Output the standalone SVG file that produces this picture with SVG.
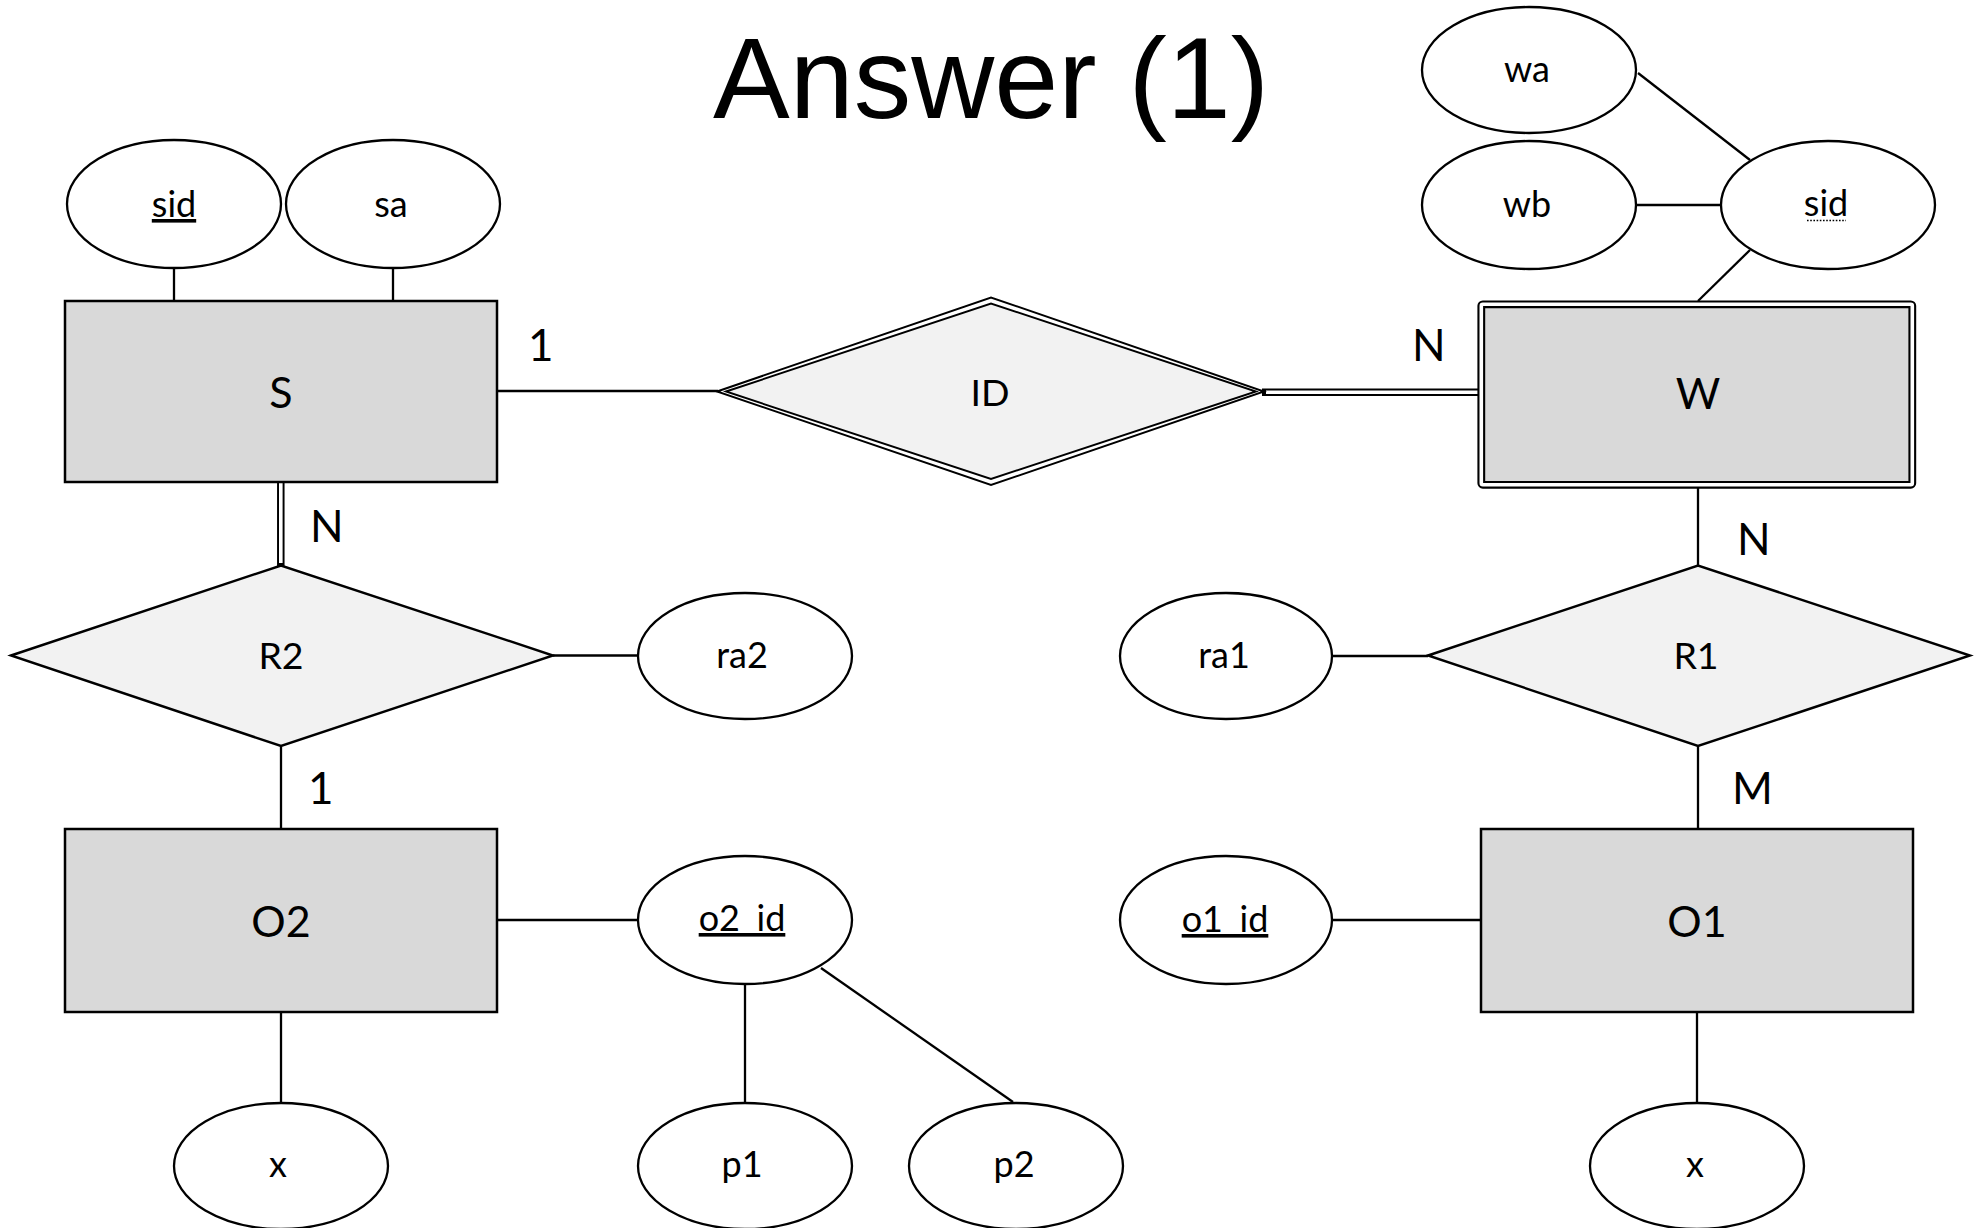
<svg xmlns="http://www.w3.org/2000/svg" width="1982" height="1228" viewBox="0 0 1982 1228">
<style>
  .ent { fill: #d9d9d9; stroke: #000; stroke-width: 2.5; }
  .rel { fill: #f2f2f2; stroke: #000; stroke-width: 2.4; stroke-linejoin: miter; }
  .att { fill: #ffffff; stroke: #000; stroke-width: 2.3; }
  .ln { stroke: #000; stroke-width: 2.3; fill: none; }
  .dbl-b { stroke: #000; stroke-width: 7.5; fill: none; }
  .dbl-w { stroke: #ffffff; stroke-width: 3.6; fill: none; }
  .dd-out { fill: #ffffff; stroke: #000; stroke-width: 1.9; stroke-linejoin: miter; }
  .dd-in { fill: #f2f2f2; stroke: #000; stroke-width: 1.9; stroke-linejoin: miter; }
  text { font-family: Lato, "Liberation Sans", sans-serif; fill: #000; text-anchor: middle; }
  .t-ent { font-size: 43px; }
  .t-rel { font-size: 37.5px; }
  .t-att { font-size: 36px; }
  .t-card { font-size: 44px; text-anchor: start; }
  .t-title { font-family: "Liberation Sans", Arial, sans-serif; font-size: 115px; }
  .ul { text-decoration: underline; }
</style>

<g id="title">
  <text class="t-title" x="991" y="117.5">Answer (1)</text>
</g>

<g id="connectors">
  <line class="ln" x1="174" y1="268" x2="174" y2="301"/>
  <line class="ln" x1="393" y1="268" x2="393" y2="301"/>
  <line class="ln" x1="497" y1="391" x2="718" y2="391"/>
  <line class="dbl-b" x1="1262" y1="392.2" x2="1480" y2="392.2"/>
  <line class="dbl-w" x1="1266" y1="392.2" x2="1480" y2="392.2"/>
  <line class="dbl-b" x1="280.8" y1="482" x2="280.8" y2="566"/>
  <line class="dbl-w" x1="280.8" y1="482" x2="280.8" y2="563"/>
  <line class="ln" x1="553" y1="655.5" x2="638" y2="655.5"/>
  <line class="ln" x1="281" y1="746" x2="281" y2="829"/>
  <line class="ln" x1="497" y1="920" x2="638" y2="920"/>
  <line class="ln" x1="281" y1="1012" x2="281" y2="1103"/>
  <line class="ln" x1="745" y1="984" x2="745" y2="1103"/>
  <line class="ln" x1="821" y1="968" x2="1013" y2="1102"/>
  <line class="ln" x1="1638" y1="73" x2="1750" y2="160"/>
  <line class="ln" x1="1636" y1="205" x2="1721" y2="205"/>
  <line class="ln" x1="1750" y1="250" x2="1698" y2="301"/>
  <line class="ln" x1="1698" y1="488" x2="1698" y2="566"/>
  <line class="ln" x1="1331" y1="656" x2="1428" y2="656"/>
  <line class="ln" x1="1698" y1="746" x2="1698" y2="829"/>
  <line class="ln" x1="1331" y1="920" x2="1481" y2="920"/>
  <line class="ln" x1="1697" y1="1012" x2="1697" y2="1103"/>
</g>

<g id="cardinalities">
  <text class="t-card" x="528" y="361">1</text>
  <text class="t-card" x="310" y="542">N</text>
  <text class="t-card" x="1412" y="361">N</text>
  <text class="t-card" x="1737" y="555">N</text>
  <text class="t-card" x="308" y="804">1</text>
  <text class="t-card" x="1732" y="804">M</text>
</g>

<g id="S">
  <rect class="ent" x="65" y="301" width="432" height="181"/>
  <text class="t-ent" x="281" y="408">S</text>
</g>

<g id="W">
  <rect x="1481.3" y="304.3" width="431" height="180.5" rx="1.5" fill="#d9d9d9" stroke="#000" stroke-width="7.8"/>
  <rect x="1481.3" y="304.3" width="431" height="180.5" rx="1.5" fill="none" stroke="#fff" stroke-width="3.6"/>
  <text class="t-ent" x="1698" y="409">W</text>
</g>

<g id="O2">
  <rect class="ent" x="65" y="829" width="432" height="183"/>
  <text class="t-ent" x="281" y="937">O2</text>
</g>

<g id="O1">
  <rect class="ent" x="1481" y="829" width="432" height="183"/>
  <text class="t-ent" x="1697" y="937">O1</text>
</g>

<g id="ID">
  <polygon class="dd-out" points="717,391.5 991,297.5 1264,391.5 991,485"/>
  <polygon class="dd-in" points="726,391.5 991,303.5 1256,391.5 991,479"/>
  <text class="t-rel" x="990" y="406">ID</text>
</g>

<g id="R2">
  <polygon class="rel" points="11,655.5 281,565.5 553,655.5 281,746"/>
  <text class="t-rel" x="281" y="669">R2</text>
</g>

<g id="R1">
  <polygon class="rel" points="1428,655.5 1698,565.5 1970,655.5 1698,746"/>
  <text class="t-rel" x="1696" y="669">R1</text>
</g>

<g id="attr-sid">
  <ellipse class="att" cx="174" cy="204" rx="107" ry="64"/>
  <text class="t-att ul" x="174" y="217">sid</text>
</g>
<g id="attr-sa">
  <ellipse class="att" cx="393" cy="204" rx="107" ry="64"/>
  <text class="t-att" x="391" y="217">sa</text>
</g>
<g id="attr-wa">
  <ellipse class="att" cx="1529" cy="70" rx="107" ry="63"/>
  <text class="t-att" x="1527" y="82">wa</text>
</g>
<g id="attr-wb">
  <ellipse class="att" cx="1529" cy="205" rx="107" ry="64"/>
  <text class="t-att" x="1527" y="217">wb</text>
</g>
<g id="attr-sid-w">
  <ellipse class="att" cx="1828" cy="205" rx="107" ry="64"/>
  <text class="t-att" x="1826" y="216">sid</text>
  <line x1="1807" y1="220.5" x2="1846" y2="220.5" stroke="#000" stroke-width="1.6" stroke-dasharray="1.6,1.6"/>
</g>
<g id="attr-ra2">
  <ellipse class="att" cx="745" cy="656" rx="107" ry="63"/>
  <text class="t-att" x="742" y="668">ra2</text>
</g>
<g id="attr-ra1">
  <ellipse class="att" cx="1226" cy="656" rx="106" ry="63"/>
  <text class="t-att" x="1224" y="668">ra1</text>
</g>
<g id="attr-o2_id">
  <ellipse class="att" cx="745" cy="920" rx="107" ry="64"/>
  <text class="t-att ul" x="742" y="931">o2_id</text>
</g>
<g id="attr-o1_id">
  <ellipse class="att" cx="1226" cy="920" rx="106" ry="64"/>
  <text class="t-att ul" x="1225" y="932">o1_id</text>
</g>
<g id="attr-x-o2">
  <ellipse class="att" cx="281" cy="1166" rx="107" ry="63"/>
  <text class="t-att" x="278" y="1177">x</text>
</g>
<g id="attr-p1">
  <ellipse class="att" cx="745" cy="1166" rx="107" ry="63"/>
  <text class="t-att" x="742" y="1177">p1</text>
</g>
<g id="attr-p2">
  <ellipse class="att" cx="1016" cy="1166" rx="107" ry="63"/>
  <text class="t-att" x="1014" y="1177">p2</text>
</g>
<g id="attr-x-o1">
  <ellipse class="att" cx="1697" cy="1166" rx="107" ry="63"/>
  <text class="t-att" x="1695" y="1177">x</text>
</g>
</svg>
